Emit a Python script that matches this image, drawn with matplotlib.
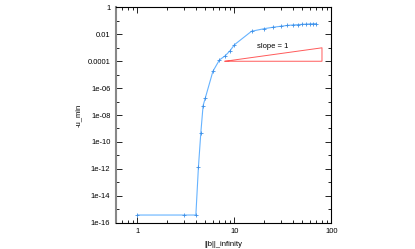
import matplotlib
matplotlib.use("Agg")
import matplotlib.pyplot as plt
from matplotlib.ticker import FixedLocator, FixedFormatter, NullFormatter

b_inf = [1, 3, 4, 4.25, 4.5, 4.75, 5, 6, 7, 8, 9, 10,
         15, 20, 25, 30, 35, 40, 45, 50, 55, 60, 65, 70]
u_min = [3.6e-16, 3.6e-16, 3.6e-16, 1.3e-12, 4.7e-10, 5e-8, 1.8e-7,
         1.8e-5, 1.25e-4, 2.5e-4, 6e-4, 1.7e-3,
         0.017, 0.026, 0.034, 0.040, 0.046, 0.050, 0.053, 0.056,
         0.058, 0.060, 0.062, 0.063]

tri_x = [8, 80, 80, 8]
tri_y = [1e-4, 1e-4, 1e-3, 1e-4]

y_major = [1, 1e-2, 1e-4, 1e-6, 1e-8, 1e-10, 1e-12, 1e-14, 1e-16]
y_labels = ["1", "0.01", "0.0001", "1e-06", "1e-08", "1e-10", "1e-12", "1e-14", "1e-16"]
y_minor = [1e-1, 1e-3, 1e-5, 1e-7, 1e-9, 1e-11, 1e-13, 1e-15]
x_major = [1, 10, 100]
x_labels = ["1", "10", "100"]

plt.rcParams['font.family'] = ['Liberation Sans', 'DejaVu Sans']
fig = plt.figure(figsize=(4.15, 2.49), dpi=100)
ax = fig.add_axes([0.2795, 0.1064, 0.519, 0.8635])

ax.plot(b_inf, u_min, color='#66b3ff', lw=0.8, marker='+', ms=3,
        mew=0.6, mec='#3d8fe6')
ax.plot(tri_x, tri_y, color='#ff5a5a', lw=0.7)
ax.text(25, 1.3e-3, "slope = 1", fontsize=5.5, ha='center', va='center')

ax.set_xscale('log')
ax.set_yscale('log')
ax.set_xlim(0.6, 100)
ax.set_ylim(1e-16, 1)

ax.yaxis.set_major_locator(FixedLocator(y_major))
ax.yaxis.set_major_formatter(FixedFormatter(y_labels))
ax.yaxis.set_minor_locator(FixedLocator(y_minor))
ax.yaxis.set_minor_formatter(NullFormatter())
ax.xaxis.set_major_locator(FixedLocator(x_major))
ax.xaxis.set_major_formatter(FixedFormatter(x_labels))
x_minor = [m * d for d in (0.1, 1, 10) for m in range(2, 10) if 0.6 <= m * d <= 100]
ax.xaxis.set_minor_locator(FixedLocator(x_minor))
ax.xaxis.set_minor_formatter(NullFormatter())

ax.tick_params(which='both', direction='in', top=True, right=True,
               labelsize=5.5, width=0.6, pad=4)
ax.tick_params(which='major', length=4)
ax.tick_params(which='minor', length=2)

for s in ['top', 'right', 'bottom']:
    ax.spines[s].set_linewidth(0.8)
ax.spines['left'].set_color('#888888')
ax.spines['left'].set_linewidth(1.5)

ax.set_xlabel("||b||_infinity", fontsize=5.5, labelpad=4)
ax.set_ylabel("-u_min", fontsize=5.5, labelpad=4)

fig.savefig("out.png", dpi=100)
